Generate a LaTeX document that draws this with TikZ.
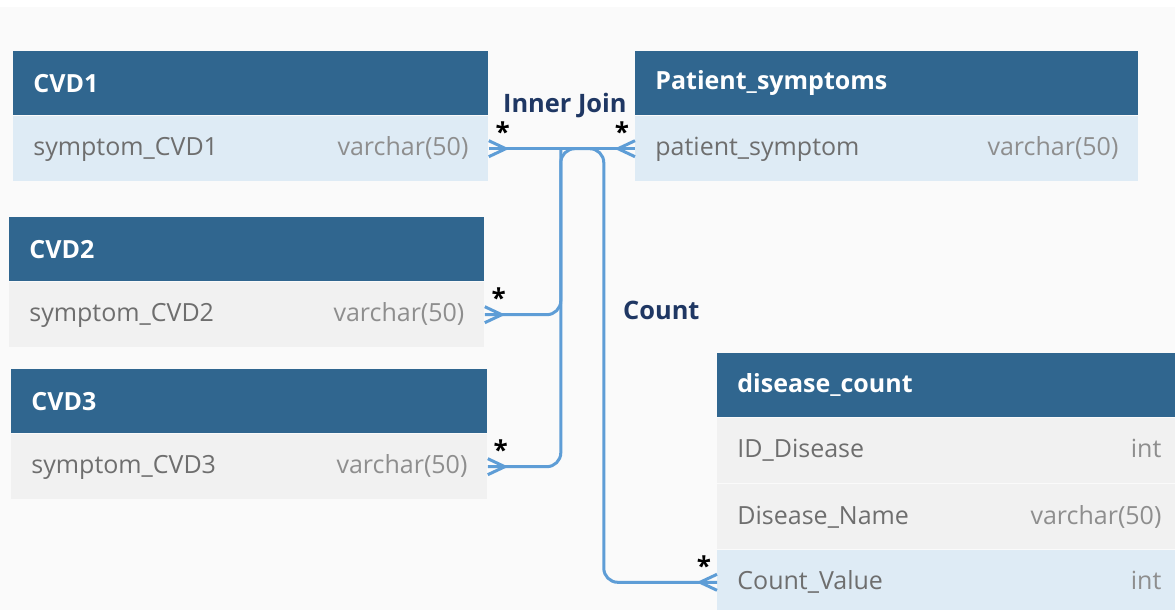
\documentclass[tikz,border=0pt]{standalone}
\usepackage{fontspec}
\setmainfont{Open Sans}
\usetikzlibrary{positioning,calc}

\definecolor{hdblue}{HTML}{30668F}
\definecolor{rowblue}{HTML}{DEEBF5}
\definecolor{rowgray}{HTML}{F1F1F1}
\definecolor{bgcol}{HTML}{FAFAFA}
\definecolor{linkblue}{HTML}{5E9DD6}
\definecolor{navy}{HTML}{1F3763}
\definecolor{namegray}{HTML}{6E6E6E}
\definecolor{typegray}{HTML}{8E8E8E}

\tikzset{
  tblhead/.style={anchor=north west, fill=hdblue, text=white,
    font=\bfseries\fontsize{12.5}{15}\selectfont,
    minimum height=32pt, text width=#1-20pt, inner xsep=10pt, inner ysep=0pt, align=left},
  tblrow/.style 2 args={fill=#1, text width=#2-20pt, minimum height=32.5pt,
    inner xsep=10pt, inner ysep=0pt, align=left, font=\fontsize{12.5}{15}\selectfont},
  conn/.style={draw=linkblue, line width=1.5pt},
  lbl/.style={text=navy, font=\bfseries\fontsize{12.7}{15}\selectfont, inner sep=0pt},
  astk/.style={inner sep=0pt, font=\bfseries\fontsize{13}{15}\selectfont},
  crowE/.pic={\draw[conn] (0,-8) -- (17,0) -- (0,8);},
  crowW/.pic={\draw[conn] (0,-8) -- (-17,0) -- (0,8);}
}
\newcommand{\fld}[2]{{\color{namegray}#1}\hfill{\color{typegray}#2}}

\begin{document}
\begin{tikzpicture}[x=0.5pt, y=-0.5pt]
\useasboundingbox (0,0) rectangle (1175,610);
\clip (0,0) rectangle (1175,610);
\fill[bgcol] (0,7) rectangle (1175,610);

% tables
\node[tblhead=237.5pt] (c1head) at (13,51) {CVD1};
\node[tblrow={rowblue}{237.5pt}, below=0pt of c1head] (c1row) {\fld{symptom\_CVD1}{varchar(50)}};

\node[tblhead=251.5pt] (pshead) at (635,51) {Patient\_symptoms};
\node[tblrow={rowblue}{251.5pt}, below=0pt of pshead] (psrow) {\fld{patient\_symptom}{varchar(50)}};

\node[tblhead=237.5pt] (c2head) at (9,217) {CVD2};
\node[tblrow={rowgray}{237.5pt}, below=0pt of c2head] (c2row) {\fld{symptom\_CVD2}{varchar(50)}};

\node[tblhead=238pt] (c3head) at (11,369) {CVD3};
\node[tblrow={rowgray}{238pt}, below=0pt of c3head] (c3row) {\fld{symptom\_CVD3}{varchar(50)}};

\node[tblhead=232pt] (dchead) at (717,353) {disease\_count};
\node[tblrow={rowgray}{232pt}, below=0pt of dchead] (dcid) {\fld{ID\_Disease}{int}};
\node[tblrow={rowgray}{232pt}, below=0pt of dcid] (dcname) {\fld{Disease\_Name}{varchar(50)}};
\node[tblrow={rowblue}{232pt}, below=0pt of dcname] (dcval) {\fld{Count\_Value}{int}};

% connectors
\coordinate (jl) at ([xshift=36pt]c1row.east);
\coordinate (jr) at ([xshift=57.5pt]c1row.east);

\draw[conn] (c1row.east) -- node[lbl, above=14.5pt, xshift=1.5pt] (joinlbl) {Inner Join} (c1row.east -| psrow.west);
\draw[conn, rounded corners=7pt] (c3row.east) -- (c3row.east -| jl) -- (jl) -- (jr)
  -- (jr |- dcval.west) -- (dcval.west);
\draw[conn, rounded corners=7pt] (c2row.east) -- (c2row.east -| jl) -- (jl);

\pic at (c1row.east) {crowE};
\pic at (c1row.east -| psrow.west) {crowW};
\pic at (c2row.east) {crowE};
\pic at (c3row.east) {crowE};
\pic at (dcval.west) {crowW};

\node[lbl, anchor=west] (cntlbl) at ([xshift=9.5pt, yshift=2pt]jr |- c2row.east) {Count};

% multiplicity marks
\node[astk] (m1) at ([shift={(14,-17)}]c1row.east) {*};
\node[astk] (m2) at ([shift={(-13,-17)}]psrow.west) {*};
\node[astk] (m3) at ([shift={(14,-17)}]c2row.east) {*};
\node[astk] (m4) at ([shift={(13,-17)}]c3row.east) {*};
\node[astk] (m5) at ([shift={(-13,-17)}]dcval.west) {*};
\end{tikzpicture}
\end{document}
